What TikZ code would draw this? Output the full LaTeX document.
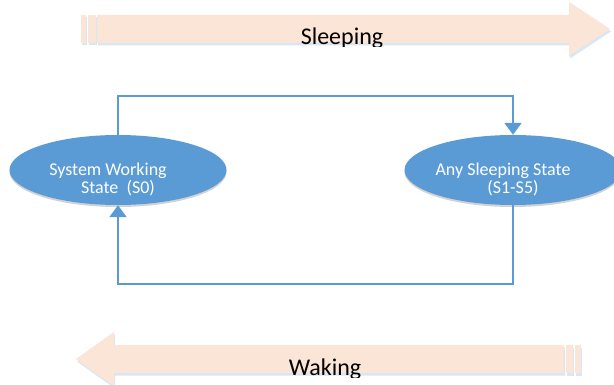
\documentclass[tikz,border=0pt]{standalone}
\usepackage{fontspec}
\setmainfont{Carlito}
\usetikzlibrary{shapes.geometric,arrows.meta,shadows}
\definecolor{stateblue}{HTML}{5B9BD5}
\definecolor{peach}{HTML}{FBE5D6}
\definecolor{shadeblue}{HTML}{D8E7F5}
\tikzset{
  state/.style={ellipse,fill=stateblue,minimum width=217pt,minimum height=70pt,inner sep=0pt,
    drop shadow={shadow xshift=0pt,shadow yshift=-2pt,fill=gray,opacity=0.35}},
  statetext/.style={text=white,align=center,font=\fontsize{18}{18}\selectfont,inner sep=0pt},
  flow/.style={draw=stateblue,line width=2pt,-{Triangle[width=17pt,length=12pt,fill=stateblue]}},
  peacharrow/.style={fill=peach,drop shadow={shadow xshift=1pt,shadow yshift=-2.5pt,fill=shadeblue,opacity=1}},
  bigtext/.style={font=\fontsize{24}{24}\selectfont,anchor=base,inner sep=0pt}
}
\begin{document}
\begin{tikzpicture}[x=1pt,y=-1pt]
\clip (0,0) rectangle (614,385);
\fill[white] (0,0) rectangle (614,385);
% sleeping arrow
\path[peacharrow] (81,15) rectangle (86,43);
\path[peacharrow] (88,15) rectangle (96,43);
\path[peacharrow] (97,15) -- (569,15) -- (569,2) -- (610,29) -- (569,56) -- (569,43) -- (97,43) -- cycle;
\begin{scope}
  \clip (0,0) rectangle (614,47);
  \node[bigtext] (sleeptext) at (342,45) {Sleeping};
\end{scope}
% waking arrow
\path[peacharrow] (575,345) rectangle (581,373);
\path[peacharrow] (566,345) rectangle (573,373);
\path[peacharrow] (564,345) -- (114,345) -- (114,332) -- (76,359) -- (114,386) -- (114,373) -- (564,373) -- cycle;
\begin{scope}
  \clip (0,0) rectangle (614,377);
  \node[bigtext] (waketext) at (325,375) {Waking};
\end{scope}
% states
\node[state] (work) at (118,170) {};
\node[state] (sleep) at (513,170) {};
\node[statetext] (worktext) at ([yshift=-9.5pt]work.center) {System Working\hspace*{20pt}\\State~~(S0)};
\node[statetext] (sleepstate) at ([yshift=-9.5pt]sleep.center) {Any Sleeping State\hspace*{20pt}\\(S1-S5)};
% transitions
\draw[flow] (work.north) -- ++(0,-39) -| (sleep.north);
\draw[flow] (sleep.south) -- ++(0,79) -| (work.south);
\end{tikzpicture}
\end{document}
